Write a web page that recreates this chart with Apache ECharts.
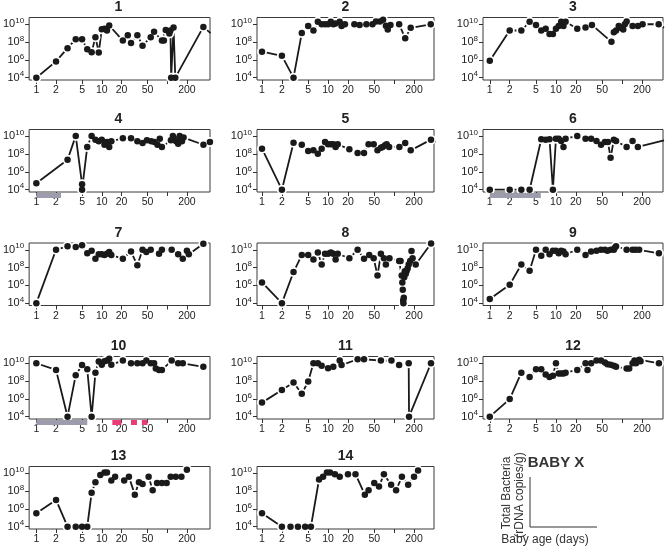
<!DOCTYPE html>
<html><head><meta charset="utf-8">
<script src="https://cdn.jsdelivr.net/npm/echarts@6/dist/echarts.min.js"></script>
<style>html,body{margin:0;padding:0;background:#fff}#c{width:666px;height:552px}</style>
</head><body><div id="c"></div>
<script>
// ---- DATA: baby age (days) and total bacteria as log10(rDNA copies/g) ----
const panelNames = ['1','2','3','4','5','6','7','8','9','10','11','12','13','14'];
const xTicks = [1,2,5,10,20,50,100,200];
const xTickLabels = [1,2,5,10,20,50,200];
const yTicks = [1e4,1e6,1e8,1e10];

const days1 = [1,2,3,4,5,6,7,8,9,10,11,12,13,21,25,28,35,42,56,63,83,89,95,108,112,115,125,133,357,460];
const log1  = [4,5.83,7.32,8.32,8.32,7.2,6.87,8.55,6.83,9.43,9.5,9.3,9.86,8.17,8.78,7.9,8.78,7.6,8.55,9.16,8.17,8.17,9.35,8.97,9.3,4,9.65,4,9.7,9.0];
const days2 = [1,2,3,4,5,6,7,8,9,10,11,12,13,15,16,18,25,30,38,47,53,61,68,75,80,88,119,147,178,358];
const log2  = [6.92,6.45,4,9.01,9.8,9.29,10.28,10,10,10,10.28,10,10.08,10.28,9.8,10,10,9.92,10,10,10.3,10.3,10.5,9.84,9.4,9.92,10,8.42,9.6,10];
const days3 = [1,2,3,4,5,6,7,8,9,10,11,12,13,14,21,28,35,69,75,81,89,95,104,110,117,144,173,204,357,430];
const log3  = [5.9,9.3,9.3,10.28,9.93,9.3,9.5,8.9,8.9,9.5,9.8,10.28,9.8,10.28,9.5,9.65,9.93,8.03,9.1,9.3,9.8,9.6,9.4,10,10.3,9.8,9.8,10,10,9.6];
const days4 = [1,3,4,5,5,6,7,8,9,10,11,12,13,14,21,28,35,42,49,57,64,71,77,83,114,122,128,137,147,155,162,168,178,358,450];
const log4  = [4.72,7.36,10.04,4.6,4,8.8,10.04,9.6,9.45,9.6,9.05,9.36,8.8,9.45,9.77,9.77,9.45,9.24,9.55,9.45,9.36,9.05,9.73,8.8,9.55,10.04,9.73,9.45,9.17,10.04,9.77,9.45,9.85,9.05,9.36];
const days5 = [1,2,3,4,5,6,7,8,9,10,11,12,13,14,21,28,35,41,49,56,63,67,73,77,84,120,147,178,361,445];
const log5  = [8.6,4,9.28,9.06,8.34,8.42,8.04,8.6,9.36,9.1,9.1,9.1,8.8,9.1,8.53,8.11,8.11,9.1,9.1,8.42,8.72,8.8,8.98,9.1,8.8,8.8,9.25,8.42,9.62,9.36];
const days6 = [1,2,3,4,6,7,8,9,10,11,12,13,14,21,28,34,41,48,55,61,67,75,81,117,144,173,430];
const log6  = [4,4,4,4,9.66,9.62,9.66,4,9.73,9.73,9.47,8.8,9.73,10.04,9.73,9.73,9.47,9.06,9.36,9.36,7.58,9.62,9.47,8.8,9.47,8.8,9.55];
const days7 = [1,2,3,4,5,6,7,8,9,10,11,12,13,14,21,28,35,42,48,56,75,83,117,147,173,200,214,357];
const log7  = [4,10,10.4,10.3,10.5,9.6,9.9,9,9.5,9.5,9.4,9.54,9.74,9.4,9,9.8,8.26,10,9.74,10,9.54,10,10,9.5,9,9.9,9.5,10.68];
const days8 = [1,2,3,4,5,6,7,8,9,10,11,12,13,14,21,28,35,42,49,56,63,70,75,85,119,125,130,133,135,137,138,140,142,145,150,155,160,166,175,183,190,212,362];
const log8  = [6.33,4,7.5,9.4,9.4,8.9,9.7,8.35,9.55,9.55,9.7,9.55,8.9,9.55,9.05,10,9,9.4,9.05,7.1,9.55,9.05,8.35,9.05,8.75,8.75,7.1,6.33,5.5,4.3,4,4.6,6.9,7.6,7.3,7.65,7.9,8.35,8.75,9.85,9.05,8.35,10.7];
const days9 = [1,2,3,4,5,6,7,8,9,10,11,12,13,14,21,28,34,41,48,55,60,67,75,77,81,117,144,160,181,360];
const log9  = [4.47,6.06,8.35,7.64,10,9.33,10,9.5,9.9,9.9,9.6,9.9,9.8,9.5,10,9.4,9.8,9.9,10,10,9.9,10,10,10.2,10.4,10,10,10,10,9.6];
const days10 = [1,2,3,4,5,6,7,8,9,10,11,12,13,14,21,28,35,42,48,56,63,67,75,83,117,147,173,357];
const log10v = [10,9.25,4,8.66,9.8,9.33,4,8.94,10.2,9.84,10.24,10.3,10.5,9.84,10.3,10,10,10,10.3,10,10,9.4,9.25,9.25,10.3,10,10,9.6];
const days11 = [1,2,3,4,5,6,7,8,10,12,15,16,28,35,63,91,119,166,168,361];
const log11  = [5.58,7,7.83,6.57,7.95,10,10,9.73,9.45,9.6,10.3,9.8,10.45,10.45,10.3,10.3,9.8,10,4,10];
const days12 = [1,2,3,4,5,6,7,8,9,10,11,12,13,14,21,28,30,34,41,48,55,60,67,75,81,117,128,144,154,162,170,181,190,360];
const log12  = [4,5.98,8.94,8.47,9.33,9.33,8.74,8.47,8.6,10,8.86,8.86,8.86,8.94,9.25,10,9.25,10,10.3,10.3,10.1,9.9,9.84,9.73,9.6,9.4,9.4,10,10.3,10,10.2,10.4,10.24,10];
const days13 = [1,2,3,4,5,6,7,8,9.5,11,12,14,16,22,26,32,37,42,52,60,70,83,98,113,135,165,200];
const log13  = [5.5,7.0,4,4,4,4,7.8,9.0,9.8,10.1,10.1,9.2,9.6,9.2,9.6,7.6,9.0,8.8,9.6,8.1,8.9,8.9,8.9,9.6,9.6,9.6,10.4];
const days14 = [1,2,2.7,3.5,4.5,5.5,7.3,8.4,9.6,10.7,12.7,15,20,26,36,41,50,59,70,90,107,131,163,200,230];
const log14  = [5.5,4,4,4,4,4,9.3,9.6,10.1,10.1,9.9,9.6,9.9,9.9,7.6,8.1,8.9,8.5,9.9,8.7,8.1,9.6,8.7,9.6,10.3];

// treatment periods shown under the axis: [panel, fromDay, toDay, kind]
const treatPeriods = [[4,1,2.38,'A'],[6,1,5.9,'A'],[10,1,6,'A'],[10,14.5,20,'B'],[10,28,34.5,'B'],[10,41,50,'B']];

const allDays = [days1,days2,days3,days4,days5,days6,days7,days8,days9,days10,days11,days12,days13,days14];
const allLogs = [log1,log2,log3,log4,log5,log6,log7,log8,log9,log10v,log11,log12,log13,log14];

// ---- LAYOUT / STYLE ----
const FONT = '"Liberation Sans", Arial, Helvetica, sans-serif';
const INK = '#1a1a1a';
const COLS = [
  {left:27, width:183, xmin:0.776, xmax:451},
  {left:257, width:177, xmin:0.84, xmax:401},
  {left:483, width:180, xmin:0.79, xmax:415}
];
const ROWS = [17.5, 129.5, 243, 356.5, 466.5];
const H = 62.5;
const YMIN = Math.pow(10, 3.74), YMAX = Math.pow(10, 10.76);
const KIND_COLOR = {A:'#9c9cad', B:'#ea3a78'};

const grids=[], xAxes=[], yAxes=[], series=[], graphics=[];
panelNames.forEach((name, i) => {
  const c = COLS[i % 3], top = ROWS[Math.floor(i / 3)];
  grids.push({left:c.left, top:top, width:c.width, height:H, show:true, borderColor:'#3a3a3a', borderWidth:1, backgroundColor:'transparent'});
  xAxes.push({gridIndex:i, type:'log', logBase:10, min:c.xmin, max:c.xmax,
    axisLine:{show:false}, splitLine:{show:false}, minorTick:{show:false},
    axisTick:{show:true, inside:false, length:4, lineStyle:{color:'#333', width:1}, customValues:xTicks},
    axisLabel:{customValues:xTickLabels, margin:5, fontSize:10.5, color:'#222', fontFamily:FONT,
      formatter: v => String(Math.round(v))}
  });
  yAxes.push({gridIndex:i, type:'log', logBase:10, min:YMIN, max:YMAX,
    axisLine:{show:false}, splitLine:{show:false}, minorTick:{show:false},
    axisTick:{show:true, inside:false, length:4, lineStyle:{color:'#333', width:1}, customValues:yTicks},
    axisLabel:{customValues:yTicks, margin:5, color:'#222',
      formatter: v => '{b|10}{s|' + Math.round(Math.log10(v)) + '}',
      rich:{ b:{fontSize:11, fontFamily:FONT, color:'#222'},
             s:{fontSize:8, fontFamily:FONT, color:'#222', padding:[0,0,7,0]} }
    }
  });
  const pts = allDays[i].map((d, k) => [d, Math.pow(10, allLogs[i][k])]);
  series.push({type:'line', xAxisIndex:i, yAxisIndex:i, data:pts, symbol:'circle', symbolSize:10,
    showAllSymbol:true, itemStyle:{color:'#fff', borderWidth:0, opacity:1}, lineStyle:{color:INK, width:1.8},
    animation:false, silent:true, clip:true, z:2});
  series.push({type:'scatter', xAxisIndex:i, yAxisIndex:i, data:pts, symbol:'circle', symbolSize:6.5,
    itemStyle:{color:INK, opacity:1}, animation:false, silent:true, clip:true, z:3});
  const bars = treatPeriods.filter(t => t[0] === i + 1).map(t => [t[1], t[2], YMIN, t[3]]);
  if (bars.length) {
    series.push({type:'custom', xAxisIndex:i, yAxisIndex:i, data:bars, encode:{x:[0,1], y:2}, clip:false,
      animation:false, silent:true, z:4,
      renderItem: (params, api) => {
        const a = api.coord([api.value(0), api.value(2)]);
        const b = api.coord([api.value(1), api.value(2)]);
        const kind = bars[params.dataIndex][3];
        return {type:'rect', shape:{x:a[0], y:a[1] + 1, width:b[0] - a[0], height:5}, style:{fill:KIND_COLOR[kind]}};
      }});
  }
  graphics.push({type:'text', x:c.left + c.width / 2, y:top - 10,
    style:{text:name, font:'bold 14px ' + FONT, fill:'#222', align:'center', verticalAlign:'middle', textAlign:'center', textVerticalAlign:'middle'}});
});

// key block (bottom right)
graphics.push({type:'text', x:556, y:463, style:{text:'BABY X', font:'bold 15px ' + FONT, fill:'#333', align:'center', verticalAlign:'middle', textAlign:'center', textVerticalAlign:'middle'}});
graphics.push({type:'line', shape:{x1:530, y1:477, x2:530, y2:527}, style:{stroke:'#333', lineWidth:1}});
graphics.push({type:'line', shape:{x1:530, y1:527, x2:597, y2:527}, style:{stroke:'#333', lineWidth:1}});
graphics.push({type:'text', x:507, y:493, rotation:Math.PI / 2, style:{text:'Total Bacteria', font:'12px ' + FONT, fill:'#333', align:'center', verticalAlign:'middle', textAlign:'center', textVerticalAlign:'middle'}});
graphics.push({type:'text', x:520, y:495, rotation:Math.PI / 2, style:{text:'(rDNA copies/g)', font:'12px ' + FONT, fill:'#333', align:'center', verticalAlign:'middle', textAlign:'center', textVerticalAlign:'middle'}});
graphics.push({type:'text', x:545, y:540, style:{text:'Baby age (days)', font:'12px ' + FONT, fill:'#333', align:'center', verticalAlign:'middle', textAlign:'center', textVerticalAlign:'middle'}});

const chart = echarts.init(document.getElementById('c'), null, {renderer:'canvas'});
chart.setOption({animation:false, backgroundColor:'#fff', grid:grids, xAxis:xAxes, yAxis:yAxes, series:series, graphic:graphics});
</script></body></html>
